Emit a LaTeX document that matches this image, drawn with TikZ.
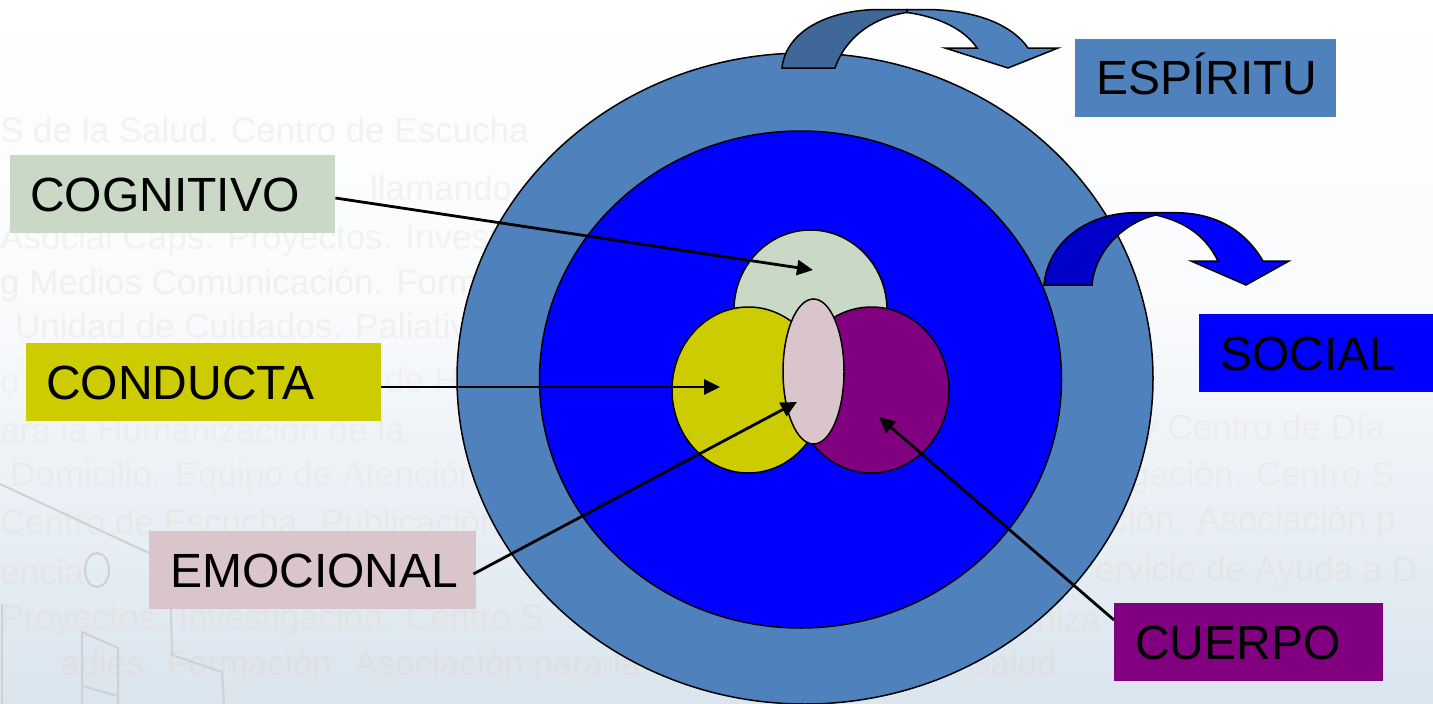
\documentclass[tikz,border=0pt]{standalone}
\usepackage{fontspec}
\setmainfont{Liberation Sans}
\usetikzlibrary{arrows.meta,shapes.geometric}
\definecolor{steel}{HTML}{4F81BD}
\definecolor{steeldk}{HTML}{3F6797}
\definecolor{pure}{HTML}{0000FF}
\definecolor{puredk}{HTML}{0000C8}
\definecolor{pale}{HTML}{C9D9C5}
\definecolor{olive}{HTML}{CCCC00}
\definecolor{plum}{HTML}{800080}
\definecolor{rosy}{HTML}{DAC5CC}
\definecolor{bgmid}{HTML}{FAFBFD}
\definecolor{bgend}{HTML}{DAE5EE}
\tikzset{
  labelbox/.style={rectangle,inner sep=0pt,minimum height=78pt,align=left,
    font=\fontsize{48}{58}\selectfont,text height=34.4pt,text depth=0pt,anchor=west,text=black},
  blob/.style={ellipse,draw=black,line width=1.5pt,inner sep=0pt},
  linkarrow/.style={draw=black,line width=2.8pt,-{Triangle[length=16pt,width=15pt]}},
  swoop/.style={draw=black,line width=1.5pt,line join=miter},
  ghost/.style={anchor=west,inner sep=0pt,font=\fontsize{35}{40}\selectfont,text=#1},
  ghostline/.style={draw=black!18,line width=2pt}
}
\begin{document}
\begin{tikzpicture}[x=1pt,y=-1pt]
\useasboundingbox (0,0) rectangle (1433,704);
\clip (0,0) rectangle (1433,704);
% background
\shade[top color=white,bottom color=bgmid,draw=none] (0,0) rectangle (1433,300);
\shade[top color=bgmid,bottom color=bgend,draw=none] (0,299) rectangle (1433,704);
% faint watermark
\node[ghost=black!5] (w1) at (0,130) {S de la Salud. Centro de Escucha};
\node[ghost=black!5] (w2) at (370,188) {llamando};
\node[ghost=black!5] (w3) at (0,240) {Asocial Caps. Proyectos. Investigación};
\node[ghost=black!6] (w4) at (0,285) {g Medios Comunicación. Formación};
\node[ghost=black!6] (w5) at (15,326) {Unidad de Cuidados. Paliativos};
\node[ghost=black!6] (w6) at (0,384) {o};
\node[ghost=black!6] (w6b) at (385,380) {de Hu};
\node[ghost=black!7] (w7) at (0,430) {ara la Humanización de la};
\node[ghost=black!7] (w7b) at (1140,430) {y Centro de Día};
\node[ghost=black!8] (w8) at (10,477) {Domicilio. Equipo de Atención};
\node[ghost=black!8] (w8b) at (1130,477) {gación. Centro S};
\node[ghost=black!9] (w9) at (0,522) {Centro de Escucha. Publicación};
\node[ghost=black!9] (w9b) at (1110,522) {ción. Asociación p};
\node[ghost=black!10] (w10) at (0,572) {encia};
\node[ghost=black!10] (w10b) at (1095,572) {ervicio de Ayuda a D};
\node[ghost=black!11] (w11) at (0,620) {Proyectos. Investigación. Centro S};
\node[ghost=black!11] (w11b) at (1036,620) {niza};
\node[ghost=black!12] (w12) at (60,666) {adies. Formación. Asociación para la Humanización de la Salud};
% faint building
\draw[ghostline] (0,484) -- (149,553);
\draw[ghostline] (97,570) ellipse (12 and 17);
\draw[ghostline] (82,704) -- (82,632) -- (118,648) -- (118,704);
\draw[ghostline] (82,686) -- (118,696);
\draw[ghostline] (171,609) -- (172,655) -- (222,672) -- (224,704);
\draw[ghostline] (2,604) -- (2,704);
% rings
\node[blob,fill=steel,minimum width=696pt,minimum height=651pt] (outer) at (805,378.5) {};
\node[blob,fill=pure,minimum width=522pt,minimum height=497pt] (inner) at (800.5,379.5) {};
% curved arrows
\draw[swoop,fill=steel] (907,12.5) .. controls (940,17) and (965,30) .. (977,48) -- (945,48)
  -- (1008,68) -- (1058,48) -- (1028,48) .. controls (1010,22) and (970,9.5) .. (925,9.5) -- (907,9.5) -- cycle;
\draw[swoop,fill=steeldk] (782,68) .. controls (786,30) and (830,9.5) .. (880,9.5) -- (907,9.5) -- (907,12.5)
  .. controls (875,17) and (846,36) .. (835,68) -- cycle;
\draw[swoop,fill=pure] (1156,215) .. controls (1185,222) and (1205,235) .. (1218,261) -- (1191,261)
  -- (1246,285) -- (1289,261) -- (1263,261) .. controls (1245,230) and (1215,212.7) .. (1175,212.7) -- (1156,212.7) -- cycle;
\draw[swoop,fill=puredk] (1044,285) .. controls (1048,240) and (1090,212.7) .. (1135,212.7) -- (1156,212.7) -- (1156,215)
  .. controls (1125,222) and (1095,250) .. (1092,285) -- cycle;
% inner shapes
\node[blob,fill=pale,minimum width=153pt,minimum height=160pt] (cog) at (810.5,310) {};
\node[blob,fill=olive,minimum width=152.6pt,minimum height=166pt] (con) at (748.3,390) {};
\node[blob,fill=plum,minimum width=155pt,minimum height=166pt] (cue) at (871.5,390) {};
\node[blob,fill=rosy,minimum width=61pt,minimum height=145pt] (emo) at (813.5,371.5) {};
% labels
\node[labelbox,fill=pale,minimum width=325pt,text width=285pt,inner xsep=20pt] (lcog) at (10,194) {COGNITIVO};
\node[labelbox,fill=olive,minimum width=355pt,text width=315pt,inner xsep=20pt] (lcon) at (26,382) {CONDUCTA};
\node[labelbox,fill=rosy,minimum width=327pt,text width=285pt,inner xsep=21pt] (lemo) at (149,570) {EMOCIONAL};
\node[labelbox,fill=plum,minimum width=269pt,text width=227pt,inner xsep=21pt] (lcue) at (1114,642) {CUERPO};
\node[labelbox,fill=pure,minimum width=234pt,text width=192pt,inner xsep=21pt] (lsoc) at (1199,353) {SOCIAL};
\node[labelbox,fill=steel,minimum width=261pt,text width=219pt,inner xsep=21pt] (lesp) at (1075,77.5) {ESPÍRITU};
% connector ends
\coordinate (tipcog) at (813,270);
\coordinate (tipcon) at (720,387);
\coordinate (tipemo) at (797,402);
\coordinate (tipcue) at (879,417);
\draw[linkarrow] ([yshift=-4pt]lcog.east) -- (tipcog);
\draw[linkarrow] ([yshift=-5pt]lcon.east) -- (tipcon);
\draw[linkarrow] ([xshift=-3pt,yshift=-4pt]lemo.east) -- (tipemo);
\draw[linkarrow] ([yshift=22pt]lcue.west) -- (tipcue);
\end{tikzpicture}
\end{document}
